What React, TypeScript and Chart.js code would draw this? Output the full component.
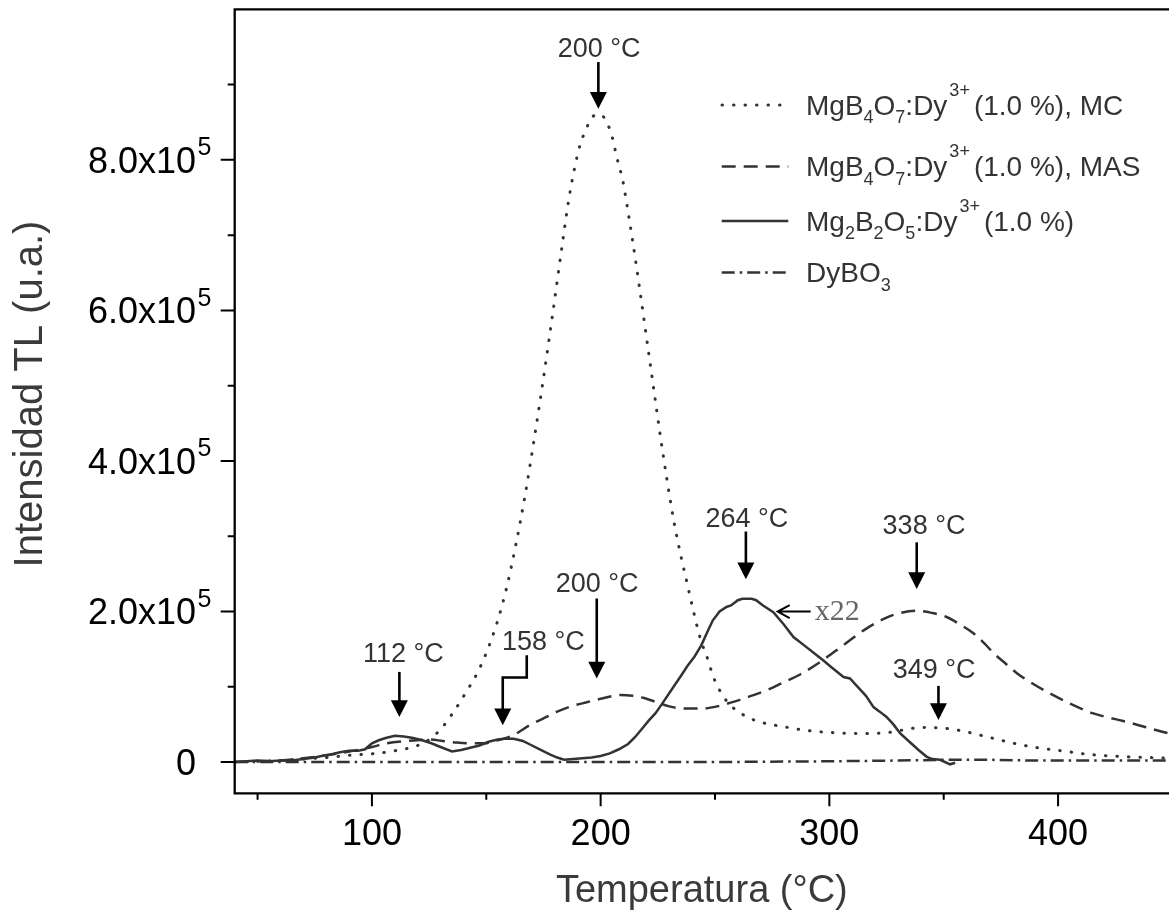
import React, { useEffect, useRef } from 'react';
import { Chart, registerables } from 'chart.js';

Chart.register(...registerables);

// ---------- data (temperature in °C, intensity in units of 10^5 u.a.) ----------
const tempMC = [40, 50, 60, 70, 80, 90, 100, 110, 120, 126, 131, 136, 141, 146, 150, 155, 159, 163, 167, 171, 175, 179, 183.7, 186, 188.8, 191.3, 193.3, 195.3, 198, 200, 203.1, 204.9, 207.1, 209.7, 212.3, 213.9, 217, 220, 223, 226, 229, 232, 235, 237.7, 240, 243.5, 247, 249.3, 253.7, 258, 264, 270, 280, 290, 302, 315, 325, 331, 337, 342, 347, 353, 360, 367, 375, 382, 389, 396, 404, 411, 418, 430, 440, 448.5];
const intMC = [0, 0.01, 0.02, 0.04, 0.06, 0.09, 0.11, 0.15, 0.22, 0.32, 0.47, 0.68, 0.92, 1.18, 1.45, 1.88, 2.33, 2.9, 3.55, 4.3, 5.1, 5.95, 6.98, 7.46, 7.92, 8.23, 8.38, 8.52, 8.6, 8.6, 8.47, 8.32, 8.03, 7.72, 7.25, 6.94, 6.3, 5.65, 5.0, 4.35, 3.75, 3.2, 2.75, 2.39, 2.08, 1.65, 1.35, 1.13, 0.87, 0.72, 0.6, 0.53, 0.47, 0.42, 0.39, 0.38, 0.39, 0.42, 0.45, 0.46, 0.455, 0.44, 0.40, 0.35, 0.29, 0.24, 0.2, 0.17, 0.14, 0.11, 0.09, 0.07, 0.06, 0.05];

const tempMAS = [40, 50, 60, 70, 80, 90, 100, 106.5, 115, 125, 131, 137, 143, 149, 155, 162, 169, 175, 181, 187, 192, 200, 208.5, 214, 219, 225, 230, 237, 244, 251, 258, 265, 273, 280, 287, 296, 306, 315, 325, 331, 338, 345, 351, 357, 363, 368, 372, 377, 382, 389, 396.5, 405, 415, 425, 433, 441, 448.5];
const intMAS = [0, 0.01, 0.02, 0.05, 0.09, 0.14, 0.2, 0.25, 0.28, 0.3, 0.28, 0.26, 0.25, 0.25, 0.29, 0.36, 0.49, 0.58, 0.67, 0.74, 0.78, 0.84, 0.89, 0.88, 0.85, 0.79, 0.74, 0.71, 0.71, 0.74, 0.8, 0.87, 0.96, 1.06, 1.16, 1.33, 1.55, 1.75, 1.92, 1.98, 2.01, 1.98, 1.93, 1.83, 1.71, 1.57, 1.44, 1.31, 1.18, 1.04, 0.91, 0.78, 0.65, 0.57, 0.51, 0.44, 0.38];

const tempMg2 = [40, 45, 50, 55, 60, 65, 70, 75, 78, 82, 86, 90, 94, 97, 100, 103, 106, 110, 114, 118, 122, 126, 130, 135, 139, 143, 147, 151, 155, 158, 162, 166, 170, 174, 178, 181, 184, 188, 192, 196, 200, 204, 208, 212, 215, 218, 221, 224, 227, 231, 235, 238, 241, 244, 247, 249, 252, 255, 257, 260, 262, 266, 268, 271, 275.5, 280, 284.3, 289, 294.5, 297, 300.5, 306.2, 309, 313, 316, 319.3, 322, 325, 328, 331, 335, 339, 342.6, 345, 348.4, 352.8, 355];
const intMg2 = [0, 0.01, 0.02, 0.01, 0.02, 0.02, 0.04, 0.06, 0.08, 0.1, 0.13, 0.15, 0.15, 0.17, 0.25, 0.29, 0.32, 0.35, 0.34, 0.32, 0.29, 0.25, 0.2, 0.14, 0.16, 0.19, 0.22, 0.27, 0.3, 0.31, 0.31, 0.28, 0.22, 0.16, 0.1, 0.06, 0.03, 0.04, 0.05, 0.06, 0.08, 0.115, 0.17, 0.24, 0.33, 0.44, 0.55, 0.65, 0.78, 0.96, 1.14, 1.28, 1.4, 1.55, 1.75, 1.88, 2.0, 2.06, 2.08, 2.15, 2.17, 2.17, 2.15, 2.08, 1.99, 1.83, 1.66, 1.55, 1.42, 1.36, 1.27, 1.13, 1.11, 0.98, 0.88, 0.73, 0.67, 0.6, 0.5, 0.38, 0.27, 0.16, 0.07, 0.04, 0.03, -0.03, -0.01];

const tempDy = [40, 100, 150, 200, 250, 300, 330, 350, 370, 390, 420, 448.5];
const intDy = [0, 0, 0, 0, 0, 0.01, 0.02, 0.03, 0.03, 0.02, 0.02, 0.02];

const UNIT = 1e5;

const xMajorTicks = [100, 200, 300, 400];
const xMinorTicks = [50, 150, 250, 350];
const yMajorTicks = [0, 2, 4, 6, 8];
const yMinorTicks = [1, 3, 5, 7, 9];
const yTickBase = ['0', '2.0x10', '4.0x10', '6.0x10', '8.0x10'];
const yTickExp = ['', '5', '5', '5', '5'];
const yTitle = 'Intensidad TL (u.a.)';
const xTitle = 'Temperatura (°C)';

// peak annotations: label, arrow temperature, arrow-tip intensity (x10^5)
const peakLabels = ['200 °C', '112 °C', '158 °C', '200 °C', '264 °C', '338 °C', '349 °C'];
const peakTemps = [199, 112, 157.2, 198.3, 263.5, 338.2, 347.7];
const peakTips = [8.68, 0.6, 0.49, 1.11, 2.43, 2.3, 0.56];
const scaleNote = 'x22';
const scaleNoteTemp = 277.4;
const scaleNoteValue = 2.0;

// legend rows as [text, kind] segments
type Seg = [string, 'n' | 'sub' | 'sup'];
const legendRows: Seg[][] = [
  [['MgB', 'n'], ['4', 'sub'], ['O', 'n'], ['7', 'sub'], [':Dy', 'n'], ['3+', 'sup'], ['(1.0 %), MC', 'n']],
  [['MgB', 'n'], ['4', 'sub'], ['O', 'n'], ['7', 'sub'], [':Dy', 'n'], ['3+', 'sup'], ['(1.0 %), MAS', 'n']],
  [['Mg', 'n'], ['2', 'sub'], ['B', 'n'], ['2', 'sub'], ['O', 'n'], ['5', 'sub'], [':Dy', 'n'], ['3+', 'sup'], ['(1.0 %)', 'n']],
  [['DyBO', 'n'], ['3', 'sub']],
];

const SANS = "'Liberation Sans', Arial, Helvetica, sans-serif";
const SERIF = "'Liberation Serif', 'Times New Roman', serif";
const CURVE = '#333333';

// pixel layout of annotations (relative to arrow tip)
const annoLayout = [
  { shaft: 46.6, textDx: 0.7, textDy: -51.6 },
  { shaft: 45, textDx: 4, textDy: -55 },
  { shaft: 0, textDx: 40.6, textDy: -75, bent: true },
  { shaft: 80, textDx: 0.3, textDy: -86.6 },
  { shaft: 47.6, textDx: 1, textDy: -52.6 },
  { shaft: 46.6, textDx: 7.3, textDy: -55 },
  { shaft: 34, textDx: -4.3, textDy: -41.7 },
];

function arrowHead(ctx: CanvasRenderingContext2D, x: number, tipY: number) {
  ctx.beginPath();
  ctx.moveTo(x, tipY);
  ctx.lineTo(x - 8.5, tipY - 16.7);
  ctx.lineTo(x + 8.5, tipY - 16.7);
  ctx.closePath();
  ctx.fill();
}

const decorPlugin = {
  id: 'decor',
  afterDraw(chart: any) {
    const { ctx, chartArea: a, scales } = chart;
    const xs = scales.x;
    const ys = scales.y;
    ctx.save();
    // frame
    ctx.strokeStyle = '#000';
    ctx.lineWidth = 2.3;
    ctx.lineJoin = 'miter';
    ctx.beginPath();
    ctx.moveTo(a.right + 3, a.top);
    ctx.lineTo(a.left, a.top);
    ctx.lineTo(a.left, a.bottom);
    ctx.lineTo(a.right + 3, a.bottom);
    ctx.stroke();

    // ticks
    ctx.lineWidth = 2;
    ctx.beginPath();
    xMajorTicks.forEach((v) => {
      const px = xs.getPixelForValue(v);
      ctx.moveTo(px, a.bottom);
      ctx.lineTo(px, a.bottom + 13);
    });
    xMinorTicks.forEach((v) => {
      const px = xs.getPixelForValue(v);
      ctx.moveTo(px, a.bottom);
      ctx.lineTo(px, a.bottom + 6.5);
    });
    yMajorTicks.forEach((v) => {
      const py = ys.getPixelForValue(v * UNIT);
      ctx.moveTo(a.left, py);
      ctx.lineTo(a.left - 14, py);
    });
    yMinorTicks.forEach((v) => {
      const py = ys.getPixelForValue(v * UNIT);
      ctx.moveTo(a.left, py);
      ctx.lineTo(a.left - 7, py);
    });
    ctx.stroke();

    // y tick labels with superscript exponent
    ctx.fillStyle = '#000';
    yMajorTicks.forEach((v, i) => {
      const py = ys.getPixelForValue(v * UNIT);
      ctx.font = `36px ${SANS}`;
      ctx.textAlign = 'right';
      ctx.textBaseline = 'alphabetic';
      const baseX = 196;
      ctx.fillText(yTickBase[i], baseX, py + 12.9);
      if (yTickExp[i]) {
        ctx.font = `25px ${SANS}`;
        ctx.textAlign = 'left';
        ctx.fillText(yTickExp[i], baseX + 1.5, py - 4.5);
      }
    });

    // y axis title (rotated)
    ctx.save();
    ctx.translate(31, 394);
    ctx.rotate(-Math.PI / 2);
    ctx.font = `40px ${SANS}`;
    ctx.fillStyle = '#3a3a3a';
    ctx.textAlign = 'center';
    ctx.textBaseline = 'middle';
    ctx.fillText(yTitle, 0, 0);
    ctx.restore();

    // legend
    const ds = chart.data.datasets;
    const lineYs = [105, 166.5, 221, 272.5];
    legendRows.forEach((row, r) => {
      const d = ds[r];
      const ly = lineYs[r];
      ctx.save();
      ctx.strokeStyle = CURVE;
      ctx.lineWidth = d.borderWidth;
      ctx.lineCap = d.borderCapStyle || 'butt';
      ctx.setLineDash(d.borderDash || []);
      ctx.beginPath();
      ctx.moveTo(r === 0 ? 722 : 721.7, ly);
      ctx.lineTo(r === 0 ? 781 : 788.3, ly);
      ctx.stroke();
      ctx.restore();
      let tx = 806;
      const base = ly + 9.5;
      ctx.fillStyle = '#333';
      ctx.textAlign = 'left';
      ctx.textBaseline = 'alphabetic';
      row.forEach(([t, k]) => {
        if (k === 'n') {
          ctx.font = `28px ${SANS}`;
          ctx.fillText(t, tx, base);
        } else if (k === 'sub') {
          ctx.font = `18px ${SANS}`;
          ctx.fillText(t, tx, base + 8.5);
        } else {
          ctx.font = `18px ${SANS}`;
          ctx.fillText(t, tx + 2, base - 19);
        }
        tx += ctx.measureText(t).width + (k === 'sup' ? 6 : 0);
      });
    });

    // peak annotations
    ctx.fillStyle = '#000';
    ctx.strokeStyle = '#000';
    ctx.lineWidth = 2.6;
    peakLabels.forEach((label, i) => {
      const px = xs.getPixelForValue(peakTemps[i]);
      const tip = ys.getPixelForValue(peakTips[i] * UNIT);
      const L = annoLayout[i];
      ctx.beginPath();
      if (L.bent) {
        ctx.moveTo(px + 24, tip - 70);
        ctx.lineTo(px + 24, tip - 47.7);
        ctx.lineTo(px, tip - 47.7);
        ctx.lineTo(px, tip - 15);
      } else {
        ctx.moveTo(px, tip - L.shaft);
        ctx.lineTo(px, tip - 15);
      }
      ctx.stroke();
      arrowHead(ctx, px, tip);
      ctx.font = `27px ${SANS}`;
      ctx.fillStyle = '#333';
      ctx.textAlign = 'center';
      ctx.textBaseline = 'alphabetic';
      ctx.fillText(label, px + L.textDx, tip + L.textDy);
      ctx.fillStyle = '#000';
    });

    // x22 note with open arrow
    const nx = xs.getPixelForValue(scaleNoteTemp);
    const ny = ys.getPixelForValue(scaleNoteValue * UNIT);
    ctx.lineWidth = 2;
    ctx.beginPath();
    ctx.moveTo(nx + 33, ny);
    ctx.lineTo(nx, ny);
    ctx.moveTo(nx + 12, ny - 6.5);
    ctx.lineTo(nx, ny);
    ctx.lineTo(nx + 12, ny + 6.5);
    ctx.stroke();
    ctx.font = `30px ${SERIF}`;
    ctx.fillStyle = '#666';
    ctx.textAlign = 'left';
    ctx.textBaseline = 'middle';
    ctx.fillText(scaleNote, nx + 37, ny + 1);
    ctx.restore();
  },
};

function pts(t: number[], v: number[]) {
  return t.map((x, i) => ({ x, y: v[i] * UNIT }));
}

export default function App() {
  const ref = useRef<HTMLCanvasElement>(null);
  useEffect(() => {
    const canvas = ref.current;
    if (!canvas) return;
    const chart = new Chart(canvas, {
      type: 'line',
      data: {
        datasets: [
          {
            label: 'MgB4O7:Dy3+(1.0 %), MC',
            data: pts(tempMC, intMC),
            borderColor: CURVE,
            borderWidth: 3,
            borderDash: [0.5, 11],
            borderCapStyle: 'round',
            pointRadius: 0,
            cubicInterpolationMode: 'monotone',
            fill: false,
          },
          {
            label: 'MgB4O7:Dy3+(1.0 %), MAS',
            data: pts(tempMAS, intMAS),
            borderColor: CURVE,
            borderWidth: 2.5,
            borderDash: [14, 8],
            pointRadius: 0,
            cubicInterpolationMode: 'monotone',
            fill: false,
          },
          {
            label: 'Mg2B2O5:Dy3+(1.0 %)',
            data: pts(tempMg2, intMg2),
            borderColor: CURVE,
            borderWidth: 2.5,
            pointRadius: 0,
            tension: 0,
            fill: false,
          },
          {
            label: 'DyBO3',
            data: pts(tempDy, intDy),
            borderColor: CURVE,
            borderWidth: 2.5,
            borderDash: [13, 5, 2.5, 5],
            pointRadius: 0,
            tension: 0,
            fill: false,
          },
        ],
      } as any,
      options: {
        animation: false,
        responsive: false,
        maintainAspectRatio: false,
        devicePixelRatio: 1,
        layout: { padding: { top: 9.3, right: 0, left: 0, bottom: 0 } },
        plugins: { legend: { display: false }, tooltip: { enabled: false } },
        scales: {
          x: {
            type: 'linear',
            min: 40,
            max: 448.5,
            afterBuildTicks: (s: any) => {
              s.ticks = xMajorTicks.map((v) => ({ value: v }));
            },
            afterFit: (s: any) => {
              s.height = 121.7;
            },
            ticks: {
              autoSkip: false,
              maxRotation: 0,
              padding: 20,
              color: '#000',
              font: { family: SANS, size: 36 },
            },
            grid: { display: false, drawTicks: false },
            border: { display: false },
            title: {
              display: true,
              text: xTitle,
              color: '#3a3a3a',
              font: { family: SANS, size: 38 },
              padding: { top: 0, bottom: 1 },
            },
          },
          y: {
            type: 'linear',
            min: -41500,
            max: 1000000,
            afterFit: (s: any) => {
              s.width = 234.7;
            },
            ticks: { display: false },
            grid: { display: false, drawTicks: false },
            border: { display: false },
            title: { display: false },
          },
        },
      } as any,
      plugins: [decorPlugin],
    });
    return () => chart.destroy();
  }, []);
  return (
    <div style={{ position: 'fixed', left: 0, top: 0, width: 1169, height: 915, background: '#fff' }}>
      <canvas ref={ref} width={1169} height={915} style={{ display: 'block', width: 1169, height: 915 }} />
    </div>
  );
}
